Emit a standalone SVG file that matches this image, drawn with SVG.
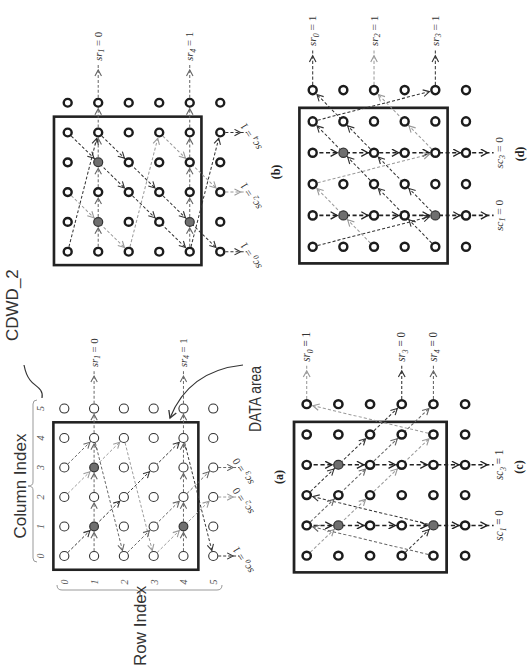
<svg xmlns="http://www.w3.org/2000/svg" width="532" height="670" viewBox="0 0 532 670">
<defs>
<style>
.ct{fill:#fff;stroke:#333;stroke-width:1.1}
.cb{fill:#fff;stroke:#1c1c1c;stroke-width:2.4}
.cg{fill:#6f6f6f;stroke:#333;stroke-width:1.2}
.box{fill:none;stroke:#222;stroke-width:2.6}
.d{fill:none;stroke:#333;stroke-width:1;stroke-dasharray:3 2;marker-mid:url(#md);marker-end:url(#md)}
.m{fill:none;stroke:#666;stroke-width:1;stroke-dasharray:3 2;marker-mid:url(#mm);marker-end:url(#mm)}
.l{fill:none;stroke:#9a9a9a;stroke-width:1;stroke-dasharray:3 2;marker-mid:url(#ml);marker-end:url(#ml)}
.k{fill:none;stroke:#222;stroke-width:1.5;stroke-dasharray:4 2.5;marker-mid:url(#mk);marker-end:url(#mk)}
.lb{font-family:"Liberation Serif",serif;font-size:11px;fill:#333}
.lbm{font-family:"Liberation Serif",serif;font-size:11px;fill:#333;text-anchor:middle}
.it{font-style:italic}
.cap{font-family:"Liberation Serif",serif;font-size:12px;font-weight:bold;fill:#222;text-anchor:middle}
.idx{font-family:"Liberation Serif",serif;font-size:10px;font-style:italic;fill:#555;text-anchor:middle}
.big{font-family:"Liberation Sans",Arial,sans-serif;font-size:17px;fill:#333}
.br{fill:none;stroke:#999;stroke-width:1}
</style>
<marker id="md" viewBox="0 0 14 8" refX="13" refY="4" markerWidth="14" markerHeight="8" orient="auto" markerUnits="userSpaceOnUse"><path d="M1,0.8 L7,4 L1,7.2" fill="none" stroke="#333" stroke-width="1.1"/></marker>
<marker id="mm" viewBox="0 0 14 8" refX="13" refY="4" markerWidth="14" markerHeight="8" orient="auto" markerUnits="userSpaceOnUse"><path d="M1,0.8 L7,4 L1,7.2" fill="none" stroke="#666" stroke-width="1.1"/></marker>
<marker id="ml" viewBox="0 0 14 8" refX="13" refY="4" markerWidth="14" markerHeight="8" orient="auto" markerUnits="userSpaceOnUse"><path d="M1,0.8 L7,4 L1,7.2" fill="none" stroke="#9a9a9a" stroke-width="1.1"/></marker>
<marker id="mk" viewBox="0 0 14 8" refX="13" refY="4" markerWidth="14" markerHeight="8" orient="auto" markerUnits="userSpaceOnUse"><path d="M0.5,0.5 L7,4 L0.5,7.5" fill="none" stroke="#222" stroke-width="1.3"/></marker>
<marker id="mc" viewBox="0 0 10 10" refX="8" refY="5" markerWidth="10" markerHeight="10" orient="auto" markerUnits="userSpaceOnUse"><path d="M1,1 L8,5 L1,9" fill="none" stroke="#333" stroke-width="1.3"/></marker>
</defs>
<rect width="532" height="670" fill="#fff"/>
<g transform="translate(0,670) rotate(-90)">

<!-- panel (a) annotations -->
<g id="a-annot">
<text class="big" x="184" y="26" text-anchor="middle">Column Index</text>
<path class="br" d="M108,37 Q108,33 112,33 L180,33 Q184,33 184,28 Q184,33 188,33 L266,33 Q270,33 270,37"/>
<text class="idx" x="114" y="44">0</text><text class="idx" x="143.5" y="44">1</text><text class="idx" x="173" y="44">2</text><text class="idx" x="202.5" y="44">3</text><text class="idx" x="232" y="44">4</text><text class="idx" x="261.5" y="44">5</text>
<text class="idx" x="88" y="68">0</text><text class="idx" x="88" y="98">1</text><text class="idx" x="88" y="127.5">2</text><text class="idx" x="88" y="157.5">3</text><text class="idx" x="88" y="187">4</text><text class="idx" x="88" y="217">5</text>
<path class="br" d="M85,57 Q80,57 80,62 L80,135 Q80,140 75,140 Q80,140 80,145 L80,217 Q80,222 85,222"/>
<text class="big" x="4" y="146" font-size="14">Row Index</text>
<path fill="none" stroke="#333" stroke-width="1.2" d="M272,42 C282,44 284,34 290,30 C295,26 300,25 305,24"/>
<text class="big" x="329" y="18">CDWD_2</text>
<text class="big" x="238" y="261" font-size="16" textLength="66" lengthAdjust="spacingAndGlyphs">DATA area</text>
<path fill="none" stroke="#333" stroke-width="1.2" d="M305,243 C302,215 290,185 252,170" marker-end="url(#mc)"/>
</g>

<g id="captions">
<text class="cap" x="193" y="283">(a)</text>
<text class="cap" x="498" y="280">(b)</text>
<text class="cap" x="203" y="523">(c)</text>
<text class="cap" x="516" y="524">(d)</text>
</g>

<!-- panel (a) -->
<g id="panel-a" transform="translate(114,64.3) scale(0.983,0.993)">
<rect class="box" x="-14" y="-11" width="150" height="146"/>
<g id="a-connectors">
<polyline class="m" points="0,30 30,30 60,30 90,30 120,30 150,30 189,30"/>
<polyline class="m" points="0,120 30,120 60,120 90,120 120,120 150,120 189,120"/>
<polyline class="d" points="0,0 30,30 60,60 90,90 120,120"/>
<line class="d" x1="120" y1="120" x2="0" y2="150"/>
<line class="d" x1="0" y1="150" x2="0" y2="176"/>
<polyline class="l" points="60,0 90,30 120,60"/>
<line class="l" x1="120" y1="60" x2="0" y2="90"/>
<polyline class="l" points="0,90 30,120 60,150"/>
<line class="l" x1="60" y1="150" x2="60" y2="176"/>
<polyline class="m" points="90,0 120,30"/>
<line class="m" x1="120" y1="30" x2="0" y2="60"/>
<polyline class="m" points="0,60 30,90 60,120 90,150"/>
<line class="m" x1="90" y1="150" x2="90" y2="176"/>
</g>
<g id="a-nodes">
<circle id="a-0-0" class="ct" cx="0" cy="0" r="4.6"/><circle id="a-0-1" class="ct" cx="30" cy="0" r="4.6"/><circle id="a-0-2" class="ct" cx="60" cy="0" r="4.6"/><circle id="a-0-3" class="ct" cx="90" cy="0" r="4.6"/><circle id="a-0-4" class="ct" cx="120" cy="0" r="4.6"/><circle id="a-0-5" class="ct" cx="150" cy="0" r="4.6"/>
<circle id="a-1-0" class="ct" cx="0" cy="30" r="4.6"/><circle id="a-1-1" class="cg" cx="30" cy="30" r="4.4"/><circle id="a-1-2" class="ct" cx="60" cy="30" r="4.6"/><circle id="a-1-3" class="cg" cx="90" cy="30" r="4.4"/><circle id="a-1-4" class="ct" cx="120" cy="30" r="4.6"/><circle id="a-1-5" class="ct" cx="150" cy="30" r="4.6"/>
<circle id="a-2-0" class="ct" cx="0" cy="60" r="4.6"/><circle id="a-2-1" class="ct" cx="30" cy="60" r="4.6"/><circle id="a-2-2" class="ct" cx="60" cy="60" r="4.6"/><circle id="a-2-3" class="ct" cx="90" cy="60" r="4.6"/><circle id="a-2-4" class="ct" cx="120" cy="60" r="4.6"/><circle id="a-2-5" class="ct" cx="150" cy="60" r="4.6"/>
<circle id="a-3-0" class="ct" cx="0" cy="90" r="4.6"/><circle id="a-3-1" class="ct" cx="30" cy="90" r="4.6"/><circle id="a-3-2" class="ct" cx="60" cy="90" r="4.6"/><circle id="a-3-3" class="ct" cx="90" cy="90" r="4.6"/><circle id="a-3-4" class="ct" cx="120" cy="90" r="4.6"/><circle id="a-3-5" class="ct" cx="150" cy="90" r="4.6"/>
<circle id="a-4-0" class="ct" cx="0" cy="120" r="4.6"/><circle id="a-4-1" class="cg" cx="30" cy="120" r="4.4"/><circle id="a-4-2" class="ct" cx="60" cy="120" r="4.6"/><circle id="a-4-3" class="ct" cx="90" cy="120" r="4.6"/><circle id="a-4-4" class="ct" cx="120" cy="120" r="4.6"/><circle id="a-4-5" class="ct" cx="150" cy="120" r="4.6"/>
<circle id="a-5-0" class="ct" cx="0" cy="150" r="4.6"/><circle id="a-5-1" class="ct" cx="30" cy="150" r="4.6"/><circle id="a-5-2" class="ct" cx="60" cy="150" r="4.6"/><circle id="a-5-3" class="ct" cx="90" cy="150" r="4.6"/><circle id="a-5-4" class="ct" cx="120" cy="150" r="4.6"/><circle id="a-5-5" class="ct" cx="150" cy="150" r="4.6"/>
</g>
<g id="a-labels">
<text class="lb" x="192" y="33.5"><tspan class="it">sr</tspan><tspan class="it" font-size="7.5" dy="2.5">1</tspan><tspan dy="-2.5"> = 0</tspan></text>
<text class="lb" x="192" y="123.5"><tspan class="it">sr</tspan><tspan class="it" font-size="7.5" dy="2.5">4</tspan><tspan dy="-2.5"> = 1</tspan></text>
<text class="lb" transform="translate(-15,191) rotate(-32)"><tspan class="it">sc</tspan><tspan class="it" font-size="7.5" dy="2.5">0</tspan><tspan dy="-2.5"> = 1</tspan></text>
<text class="lb" transform="translate(45,191) rotate(-32)"><tspan class="it">sc</tspan><tspan class="it" font-size="7.5" dy="2.5">2</tspan><tspan dy="-2.5"> = 0</tspan></text>
<text class="lb" transform="translate(75,191) rotate(-32)"><tspan class="it">sc</tspan><tspan class="it" font-size="7.5" dy="2.5">3</tspan><tspan dy="-2.5"> = 0</tspan></text>
</g>
</g>

<!-- panel (b) -->
<g id="panel-b" transform="translate(418.3,67.7) scale(0.993,1.017)">
<rect class="box" x="-13.5" y="-13.5" width="149.5" height="145"/>
<g id="b-connectors">
<polyline class="m" points="0,30 30,30 60,30 90,30 120,30 150,30 189,30"/>
<polyline class="m" points="0,120 30,120 60,120 90,120 120,120 150,120 189,120"/>
<line class="d" x1="0" y1="0" x2="120" y2="30"/>
<polyline class="d" points="120,30 90,60 60,90 30,120 0,150"/>
<line class="d" x1="0" y1="150" x2="0" y2="176"/>
<polyline class="l" points="60,0 30,30 0,60"/>
<line class="l" x1="0" y1="60" x2="120" y2="90"/>
<polyline class="l" points="120,90 90,120 60,150"/>
<line class="l" x1="60" y1="150" x2="60" y2="176"/>
<polyline class="d" points="120,0 90,30 60,60 30,90 0,120"/>
<line class="d" x1="0" y1="120" x2="120" y2="150"/>
<line class="d" x1="120" y1="150" x2="120" y2="176"/>
</g>
<g id="b-nodes">
<circle id="b-0-0" class="cb" cx="0" cy="0" r="3.9"/><circle id="b-0-1" class="cb" cx="30" cy="0" r="3.9"/><circle id="b-0-2" class="cb" cx="60" cy="0" r="3.9"/><circle id="b-0-3" class="cb" cx="90" cy="0" r="3.9"/><circle id="b-0-4" class="cb" cx="120" cy="0" r="3.9"/><circle id="b-0-5" class="cb" cx="150" cy="0" r="3.9"/>
<circle id="b-1-0" class="cb" cx="0" cy="30" r="3.9"/><circle id="b-1-1" class="cg" cx="30" cy="30" r="4.4"/><circle id="b-1-2" class="cb" cx="60" cy="30" r="3.9"/><circle id="b-1-3" class="cg" cx="90" cy="30" r="4.4"/><circle id="b-1-4" class="cb" cx="120" cy="30" r="3.9"/><circle id="b-1-5" class="cb" cx="150" cy="30" r="3.9"/>
<circle id="b-2-0" class="cb" cx="0" cy="60" r="3.9"/><circle id="b-2-1" class="cb" cx="30" cy="60" r="3.9"/><circle id="b-2-2" class="cb" cx="60" cy="60" r="3.9"/><circle id="b-2-3" class="cb" cx="90" cy="60" r="3.9"/><circle id="b-2-4" class="cb" cx="120" cy="60" r="3.9"/><circle id="b-2-5" class="cb" cx="150" cy="60" r="3.9"/>
<circle id="b-3-0" class="cb" cx="0" cy="90" r="3.9"/><circle id="b-3-1" class="cb" cx="30" cy="90" r="3.9"/><circle id="b-3-2" class="cb" cx="60" cy="90" r="3.9"/><circle id="b-3-3" class="cb" cx="90" cy="90" r="3.9"/><circle id="b-3-4" class="cb" cx="120" cy="90" r="3.9"/><circle id="b-3-5" class="cb" cx="150" cy="90" r="3.9"/>
<circle id="b-4-0" class="cb" cx="0" cy="120" r="3.9"/><circle id="b-4-1" class="cg" cx="30" cy="120" r="4.4"/><circle id="b-4-2" class="cb" cx="60" cy="120" r="3.9"/><circle id="b-4-3" class="cb" cx="90" cy="120" r="3.9"/><circle id="b-4-4" class="cb" cx="120" cy="120" r="3.9"/><circle id="b-4-5" class="cb" cx="150" cy="120" r="3.9"/>
<circle id="b-5-0" class="cb" cx="0" cy="150" r="3.9"/><circle id="b-5-1" class="cb" cx="30" cy="150" r="3.9"/><circle id="b-5-2" class="cb" cx="60" cy="150" r="3.9"/><circle id="b-5-3" class="cb" cx="90" cy="150" r="3.9"/><circle id="b-5-4" class="cb" cx="120" cy="150" r="3.9"/><circle id="b-5-5" class="cb" cx="150" cy="150" r="3.9"/>
</g>
<g id="b-labels">
<text class="lb" x="192" y="33.5"><tspan class="it">sr</tspan><tspan class="it" font-size="7.5" dy="2.5">1</tspan><tspan dy="-2.5"> = 0</tspan></text>
<text class="lb" x="192" y="123.5"><tspan class="it">sr</tspan><tspan class="it" font-size="7.5" dy="2.5">4</tspan><tspan dy="-2.5"> = 1</tspan></text>
<text class="lb" transform="translate(-15,191) rotate(-32)"><tspan class="it">sc</tspan><tspan class="it" font-size="7.5" dy="2.5">0</tspan><tspan dy="-2.5"> = 1</tspan></text>
<text class="lb" transform="translate(45,191) rotate(-32)"><tspan class="it">sc</tspan><tspan class="it" font-size="7.5" dy="2.5">2</tspan><tspan dy="-2.5"> = 1</tspan></text>
<text class="lb" transform="translate(105,191) rotate(-32)"><tspan class="it">sc</tspan><tspan class="it" font-size="7.5" dy="2.5">4</tspan><tspan dy="-2.5"> = 1</tspan></text>
</g>
</g>

<!-- panel (c) -->
<g id="panel-c" transform="translate(114.3,306.7) scale(1.01,1.056)">
<rect class="box" x="-16.5" y="-12" width="149" height="144.5"/>
<g id="c-connectors">
<polyline class="k" points="30,0 30,30 30,60 30,90 30,120 30,150 30,177"/>
<polyline class="k" points="90,0 90,30 90,60 90,90 90,120 90,150 90,177"/>
<polyline class="l" points="0,0 30,30 60,60 90,90 120,120"/>
<line class="l" x1="120" y1="120" x2="150" y2="0"/>
<line class="l" x1="150" y1="0" x2="189" y2="0"/>
<line class="d" x1="0" y1="90" x2="30" y2="120"/>
<line class="d" x1="30" y1="120" x2="60" y2="0"/>
<polyline class="d" points="60,0 90,30 120,60 150,90"/>
<line class="d" x1="150" y1="90" x2="189" y2="90"/>
<line class="m" x1="0" y1="120" x2="30" y2="0"/>
<polyline class="m" points="30,0 60,30 90,60 120,90 150,120"/>
<line class="m" x1="150" y1="120" x2="189" y2="120"/>
</g>
<g id="c-nodes">
<circle id="c-0-0" class="cb" cx="0" cy="0" r="3.9"/><circle id="c-0-1" class="cb" cx="30" cy="0" r="3.9"/><circle id="c-0-2" class="cb" cx="60" cy="0" r="3.9"/><circle id="c-0-3" class="cb" cx="90" cy="0" r="3.9"/><circle id="c-0-4" class="cb" cx="120" cy="0" r="3.9"/><circle id="c-0-5" class="cb" cx="150" cy="0" r="3.9"/>
<circle id="c-1-0" class="cb" cx="0" cy="30" r="3.9"/><circle id="c-1-1" class="cg" cx="30" cy="30" r="4.4"/><circle id="c-1-2" class="cb" cx="60" cy="30" r="3.9"/><circle id="c-1-3" class="cg" cx="90" cy="30" r="4.4"/><circle id="c-1-4" class="cb" cx="120" cy="30" r="3.9"/><circle id="c-1-5" class="cb" cx="150" cy="30" r="3.9"/>
<circle id="c-2-0" class="cb" cx="0" cy="60" r="3.9"/><circle id="c-2-1" class="cb" cx="30" cy="60" r="3.9"/><circle id="c-2-2" class="cb" cx="60" cy="60" r="3.9"/><circle id="c-2-3" class="cb" cx="90" cy="60" r="3.9"/><circle id="c-2-4" class="cb" cx="120" cy="60" r="3.9"/><circle id="c-2-5" class="cb" cx="150" cy="60" r="3.9"/>
<circle id="c-3-0" class="cb" cx="0" cy="90" r="3.9"/><circle id="c-3-1" class="cb" cx="30" cy="90" r="3.9"/><circle id="c-3-2" class="cb" cx="60" cy="90" r="3.9"/><circle id="c-3-3" class="cb" cx="90" cy="90" r="3.9"/><circle id="c-3-4" class="cb" cx="120" cy="90" r="3.9"/><circle id="c-3-5" class="cb" cx="150" cy="90" r="3.9"/>
<circle id="c-4-0" class="cb" cx="0" cy="120" r="3.9"/><circle id="c-4-1" class="cg" cx="30" cy="120" r="4.4"/><circle id="c-4-2" class="cb" cx="60" cy="120" r="3.9"/><circle id="c-4-3" class="cb" cx="90" cy="120" r="3.9"/><circle id="c-4-4" class="cb" cx="120" cy="120" r="3.9"/><circle id="c-4-5" class="cb" cx="150" cy="120" r="3.9"/>
<circle id="c-5-0" class="cb" cx="0" cy="150" r="3.9"/><circle id="c-5-1" class="cb" cx="30" cy="150" r="3.9"/><circle id="c-5-2" class="cb" cx="60" cy="150" r="3.9"/><circle id="c-5-3" class="cb" cx="90" cy="150" r="3.9"/><circle id="c-5-4" class="cb" cx="120" cy="150" r="3.9"/><circle id="c-5-5" class="cb" cx="150" cy="150" r="3.9"/>
</g>
<g id="c-labels">
<text class="lb" x="192" y="3.5"><tspan class="it">sr</tspan><tspan class="it" font-size="7.5" dy="2.5">0</tspan><tspan dy="-2.5"> = 1</tspan></text>
<text class="lb" x="192" y="93.5"><tspan class="it">sr</tspan><tspan class="it" font-size="7.5" dy="2.5">3</tspan><tspan dy="-2.5"> = 0</tspan></text>
<text class="lb" x="192" y="123.5"><tspan class="it">sr</tspan><tspan class="it" font-size="7.5" dy="2.5">4</tspan><tspan dy="-2.5"> = 0</tspan></text>
<text class="lbm" x="30" y="186"><tspan class="it">sc</tspan><tspan class="it" font-size="7.5" dy="2.5">1</tspan><tspan dy="-2.5"> = 0</tspan></text>
<text class="lbm" x="90" y="186"><tspan class="it">sc</tspan><tspan class="it" font-size="7.5" dy="2.5">3</tspan><tspan dy="-2.5"> = 1</tspan></text>
</g>
</g>

<!-- panel (d) -->
<g id="panel-d" transform="translate(423.3,312.7) scale(1.044,1.022)">
<rect class="box" x="-16" y="-13" width="149" height="145"/>
<g id="d-connectors">
<polyline class="k" points="30,0 30,30 30,60 30,90 30,120 30,150 30,177"/>
<polyline class="k" points="90,0 90,30 90,60 90,90 90,120 90,150 90,177"/>
<line class="d" x1="0" y1="0" x2="30" y2="120"/>
<polyline class="d" points="30,120 60,90 90,60 120,30 150,0"/>
<line class="d" x1="150" y1="0" x2="189" y2="0"/>
<polyline class="l" points="0,60 30,30 60,0"/>
<line class="l" x1="60" y1="0" x2="90" y2="120"/>
<polyline class="l" points="90,120 120,90 150,60"/>
<line class="l" x1="150" y1="60" x2="189" y2="60"/>
<polyline class="d" points="0,120 30,90 60,60 90,30 120,0"/>
<line class="d" x1="120" y1="0" x2="150" y2="120"/>
<line class="d" x1="150" y1="120" x2="189" y2="120"/>
</g>
<g id="d-nodes">
<circle id="d-0-0" class="cb" cx="0" cy="0" r="3.9"/><circle id="d-0-1" class="cb" cx="30" cy="0" r="3.9"/><circle id="d-0-2" class="cb" cx="60" cy="0" r="3.9"/><circle id="d-0-3" class="cb" cx="90" cy="0" r="3.9"/><circle id="d-0-4" class="cb" cx="120" cy="0" r="3.9"/><circle id="d-0-5" class="cb" cx="150" cy="0" r="3.9"/>
<circle id="d-1-0" class="cb" cx="0" cy="30" r="3.9"/><circle id="d-1-1" class="cg" cx="30" cy="30" r="4.4"/><circle id="d-1-2" class="cb" cx="60" cy="30" r="3.9"/><circle id="d-1-3" class="cg" cx="90" cy="30" r="4.4"/><circle id="d-1-4" class="cb" cx="120" cy="30" r="3.9"/><circle id="d-1-5" class="cb" cx="150" cy="30" r="3.9"/>
<circle id="d-2-0" class="cb" cx="0" cy="60" r="3.9"/><circle id="d-2-1" class="cb" cx="30" cy="60" r="3.9"/><circle id="d-2-2" class="cb" cx="60" cy="60" r="3.9"/><circle id="d-2-3" class="cb" cx="90" cy="60" r="3.9"/><circle id="d-2-4" class="cb" cx="120" cy="60" r="3.9"/><circle id="d-2-5" class="cb" cx="150" cy="60" r="3.9"/>
<circle id="d-3-0" class="cb" cx="0" cy="90" r="3.9"/><circle id="d-3-1" class="cb" cx="30" cy="90" r="3.9"/><circle id="d-3-2" class="cb" cx="60" cy="90" r="3.9"/><circle id="d-3-3" class="cb" cx="90" cy="90" r="3.9"/><circle id="d-3-4" class="cb" cx="120" cy="90" r="3.9"/><circle id="d-3-5" class="cb" cx="150" cy="90" r="3.9"/>
<circle id="d-4-0" class="cb" cx="0" cy="120" r="3.9"/><circle id="d-4-1" class="cg" cx="30" cy="120" r="4.4"/><circle id="d-4-2" class="cb" cx="60" cy="120" r="3.9"/><circle id="d-4-3" class="cb" cx="90" cy="120" r="3.9"/><circle id="d-4-4" class="cb" cx="120" cy="120" r="3.9"/><circle id="d-4-5" class="cb" cx="150" cy="120" r="3.9"/>
<circle id="d-5-0" class="cb" cx="0" cy="150" r="3.9"/><circle id="d-5-1" class="cb" cx="30" cy="150" r="3.9"/><circle id="d-5-2" class="cb" cx="60" cy="150" r="3.9"/><circle id="d-5-3" class="cb" cx="90" cy="150" r="3.9"/><circle id="d-5-4" class="cb" cx="120" cy="150" r="3.9"/><circle id="d-5-5" class="cb" cx="150" cy="150" r="3.9"/>
</g>
<g id="d-labels">
<text class="lb" x="192" y="3.5"><tspan class="it">sr</tspan><tspan class="it" font-size="7.5" dy="2.5">0</tspan><tspan dy="-2.5"> = 1</tspan></text>
<text class="lb" x="192" y="63.5" fill="#888"><tspan class="it">sr</tspan><tspan class="it" font-size="7.5" dy="2.5">2</tspan><tspan dy="-2.5"> = 1</tspan></text>
<text class="lb" x="192" y="123.5"><tspan class="it">sr</tspan><tspan class="it" font-size="7.5" dy="2.5">3</tspan><tspan dy="-2.5"> = 1</tspan></text>
<text class="lbm" x="30" y="186"><tspan class="it">sc</tspan><tspan class="it" font-size="7.5" dy="2.5">1</tspan><tspan dy="-2.5"> = 0</tspan></text>
<text class="lbm" x="90" y="186"><tspan class="it">sc</tspan><tspan class="it" font-size="7.5" dy="2.5">3</tspan><tspan dy="-2.5"> = 0</tspan></text>
</g>
</g>

</g>
</svg>
